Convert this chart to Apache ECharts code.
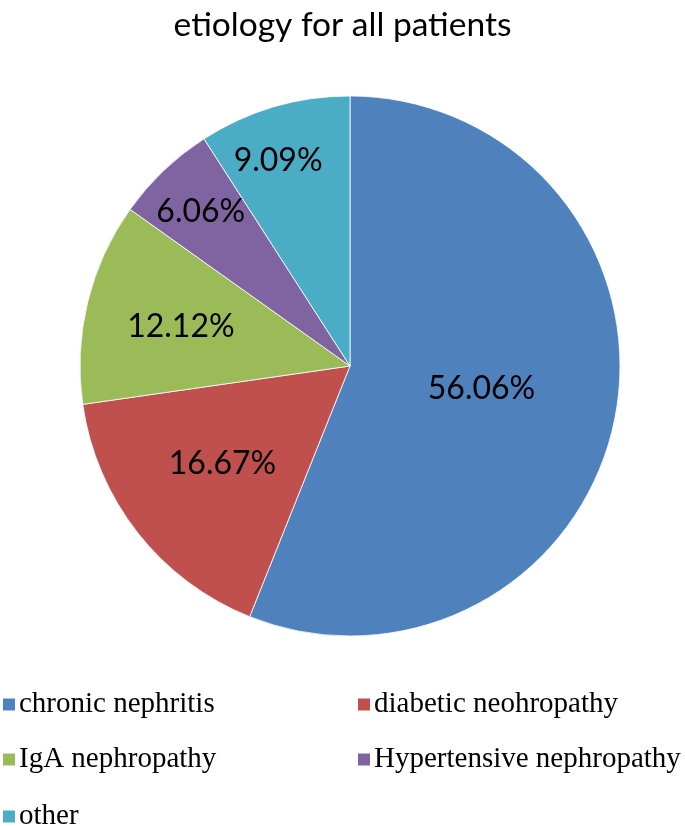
<!DOCTYPE html>
<html>
<head>
<meta charset="utf-8">
<script src="https://cdn.jsdelivr.net/npm/echarts@6/dist/echarts.min.js"></script>
<style>
  html, body { margin: 0; padding: 0; background: #fff; }
  #main { width: 685px; height: 826px; }
</style>
</head>
<body>
<div id="main"></div>
<script>
var categories = ['chronic nephritis', 'diabetic neohropathy', 'IgA nephropathy', 'Hypertensive nephropathy', 'other'];
var percents = [56.06, 16.67, 12.12, 6.06, 9.09];
var colors = ['#4F81BD', '#C0504D', '#9BBB59', '#8064A2', '#4BACC6'];
// nudges so labels sit where Excel put them
var labelOffsets = [[-4, -3], [-19, 12], [-35, -7], [-54, -54], [-33, -73]];
// legend slots: [left, top]
var legendSlots = [[1, 690], [356, 690], [1, 745], [356, 745], [1, 802]];

var chart = echarts.init(document.getElementById('main'));

var legends = categories.map(function (name, i) {
    return {
        data: [name],
        left: legendSlots[i][0],
        top: legendSlots[i][1],
        icon: 'rect',
        itemWidth: 14,
        itemHeight: 14,
        itemGap: 5,
        padding: 0,
        selectedMode: false,
        textStyle: {
            fontFamily: 'Liberation Serif',
            fontSize: 29,
            color: '#000',
            padding: [0, 0, 0, -2]
        }
    };
});

var option = {
    color: colors,
    animation: false,
    title: {
        text: 'etiology for all patients',
        left: 'center',
        top: 3,
        textStyle: {
            fontFamily: 'Lato',
            fontWeight: 'normal',
            fontSize: 33.5,
            color: '#000'
        }
    },
    legend: legends,
    series: [{
        type: 'pie',
        center: [350, 366],
        radius: 270,
        startAngle: 90,
        clockwise: true,
        itemStyle: {
            borderColor: '#fff',
            borderWidth: 0.8
        },
        label: {
            show: true,
            position: 'inside',
            fontFamily: 'Lato',
            fontSize: 32,
            color: '#000',
            formatter: function (p) {
                return percents[p.dataIndex].toFixed(2) + '%';
            }
        },
        labelLine: { show: false },
        emphasis: { disabled: true },
        data: categories.map(function (name, i) {
            return {
                name: name,
                value: percents[i],
                label: { offset: labelOffsets[i] }
            };
        })
    }]
};

chart.setOption(option);
</script>
</body>
</html>
